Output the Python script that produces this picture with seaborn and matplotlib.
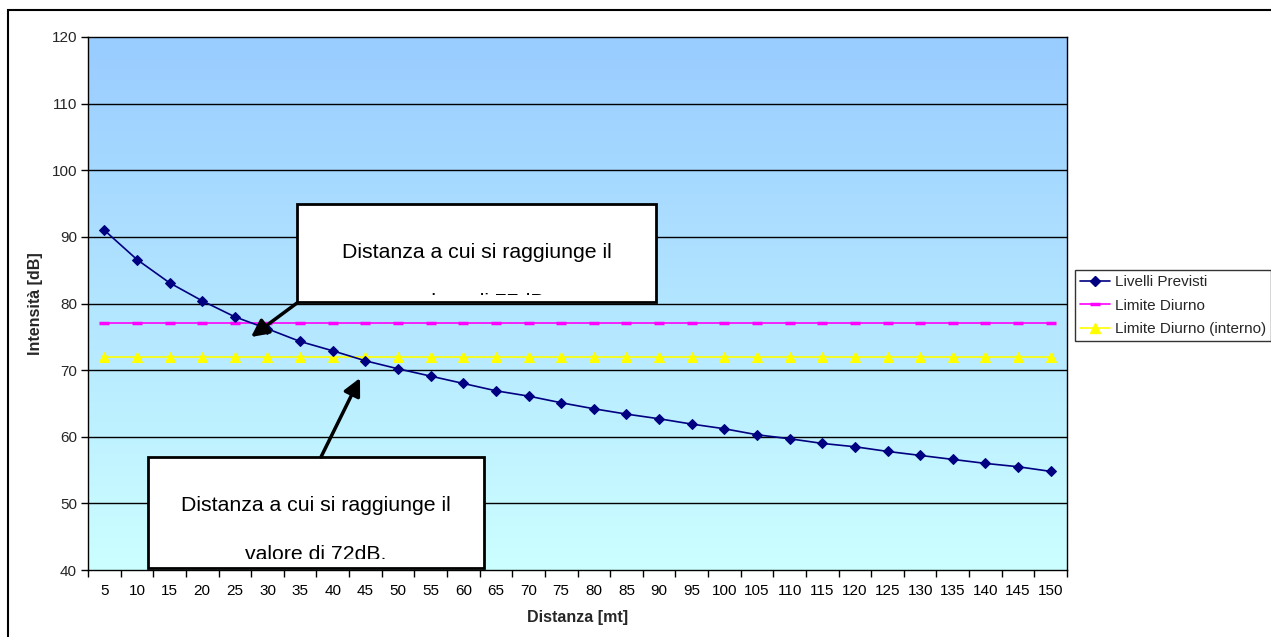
import numpy as np
import pandas as pd
import matplotlib
matplotlib.use("Agg")
import matplotlib.pyplot as plt
from matplotlib.patches import Rectangle, FancyArrowPatch
from matplotlib.lines import Line2D
import seaborn as sns

# --- data -------------------------------------------------------------
distanze = [5, 10, 15, 20, 25, 30, 35, 40, 45, 50, 55, 60, 65, 70, 75,
            80, 85, 90, 95, 100, 105, 110, 115, 120, 125, 130, 135, 140, 145, 150]
livelli_previsti = [91.0, 86.6, 83.1, 80.4, 78.0, 76.2, 74.3, 72.9, 71.4, 70.2,
                    69.1, 68.0, 66.9, 66.1, 65.1, 64.2, 63.4, 62.7, 61.9, 61.2,
                    60.3, 59.7, 59.0, 58.5, 57.8, 57.2, 56.6, 56.0, 55.5, 54.8]
limite_diurno = [77, 77, 77, 77, 77, 77, 77, 77, 77, 77, 77, 77, 77, 77, 77,
                 77, 77, 77, 77, 77, 77, 77, 77, 77, 77, 77, 77, 77, 77, 77]
limite_interno = [72, 72, 72, 72, 72, 72, 72, 72, 72, 72, 72, 72, 72, 72, 72,
                  72, 72, 72, 72, 72, 72, 72, 72, 72, 72, 72, 72, 72, 72, 72]
y_ticks = [40, 50, 60, 70, 80, 90, 100, 110, 120]
serie = ["Livelli Previsti", "Limite Diurno", "Limite Diurno (interno)"]
nota_77 = ["Distanza a cui si raggiunge il", "valore di 77dB"]
nota_72 = ["Distanza a cui si raggiunge il", "valore di 72dB."]

pos = np.arange(len(distanze))
df = pd.DataFrame({"pos": pos, "liv": livelli_previsti,
                   "diurno": limite_diurno, "interno": limite_interno})

# --- style ------------------------------------------------------------
sns.set_theme(style="white")
plt.rcParams["font.family"] = ["Liberation Sans", "DejaVu Sans"]

W, H = 1271, 637
fig = plt.figure(figsize=(W / 100, H / 100), dpi=100)
fig.patch.set_facecolor("white")


def fx(x):
    return x / W


def fy(y):
    return 1 - y / H


ax = fig.add_axes([fx(88), fy(570), fx(1067) - fx(88), fy(37) - fy(570)])

# gradient background of the plot area
grad = np.linspace(0, 1, 256).reshape(-1, 1)
top = np.array([153, 204, 255]) / 255
bot = np.array([204, 255, 255]) / 255
img = top[None, None, :] * (1 - grad[:, :, None]) + bot[None, None, :] * grad[:, :, None]
ax.imshow(img, extent=[0, 1, 0, 1], transform=ax.transAxes, aspect="auto", zorder=0)

for v in y_ticks[1:-1]:
    ax.axhline(v, color="black", lw=1.0, zorder=1)

sns.lineplot(data=df, x="pos", y="interno", ax=ax, color="#FFFF00", lw=1.2,
             marker="^", markersize=7, markeredgecolor="#FFFF00", zorder=3)
sns.lineplot(data=df, x="pos", y="diurno", ax=ax, color="#FF00FF", lw=1.2,
             marker="_", markersize=6.5, markeredgewidth=2.5, markeredgecolor="#FF00FF", zorder=3)
sns.lineplot(data=df, x="pos", y="liv", ax=ax, color="#000080", lw=1.2,
             marker="D", markersize=5, markeredgecolor="#000080", zorder=4)

ax.set_xlim(-0.5, len(distanze) - 0.5)
ax.set_ylim(40, 120)
ax.set_yticks(y_ticks)
ax.set_yticklabels([str(v) for v in y_ticks], fontsize=11)
ax.set_xticks(pos)
ax.set_xticklabels([str(d) for d in distanze], fontsize=11)
ax.set_xticks(np.arange(len(distanze) + 1) - 0.5, minor=True)
ax.tick_params(axis="x", which="major", length=0, pad=10, colors="black")
ax.tick_params(axis="x", which="minor", length=5, width=1, direction="out",
               color="black", bottom=True)
ax.tick_params(axis="y", which="major", length=5, width=1, direction="out",
               color="black", left=True, pad=3)
for s in ax.spines.values():
    s.set_color("black")
    s.set_linewidth(1.0)
    s.set_visible(True)

ax.set_xlabel("Distanza [mt]", fontsize=11.5, fontweight="bold", labelpad=9)
ax.set_ylabel("Intensità [dB]", fontsize=11.5, fontweight="bold", labelpad=6)
ax.grid(False)

# legend
handles = [
    Line2D([], [], color="#000080", lw=1.2, marker="D", markersize=5),
    Line2D([], [], color="#FF00FF", lw=1.2, marker="_", markersize=6.5, markeredgewidth=2.5),
    Line2D([], [], color="#FFFF00", lw=1.2, marker="^", markersize=7),
]
leg = fig.legend(handles, serie, loc="upper left",
                 bbox_to_anchor=(fx(1075), fy(270)), fontsize=11,
                 frameon=True, fancybox=False, edgecolor="black",
                 handlelength=1.95, handletextpad=0.35, borderpad=0.33,
                 labelspacing=0.62, borderaxespad=0)
leg.get_frame().set_linewidth(1.0)

# outer chart border
fig.add_artist(Rectangle((fx(8), -0.1), 1.2, fy(10) + 0.1, transform=fig.transFigure,
                         fill=False, edgecolor="black", lw=1.5))


def note_box(x0, y0, x1, y1, lines, baselines, clip_bottom):
    box = Rectangle((fx(x0), fy(y1)), fx(x1) - fx(x0), fy(y0) - fy(y1),
                    transform=fig.transFigure, facecolor="white",
                    edgecolor="black", lw=2, zorder=5)
    fig.add_artist(box)
    clip = Rectangle((fx(x0), fy(clip_bottom)), fx(x1) - fx(x0), fy(y0) - fy(clip_bottom),
                     transform=fig.transFigure, visible=False)
    fig.add_artist(clip)
    for txt, b in zip(lines, baselines):
        t = fig.text(fx((x0 + x1) / 2), fy(b), txt, ha="center", va="baseline",
                     fontsize=15.3, color="black", zorder=6)
        t.set_clip_path(clip)
        t.set_clip_on(True)


def arrow(tail, tip):
    fig.add_artist(FancyArrowPatch((fx(tail[0]), fy(tail[1])), (fx(tip[0]), fy(tip[1])),
                                   transform=fig.transFigure, arrowstyle="-|>",
                                   mutation_scale=26, lw=2.5, color="black",
                                   shrinkA=0, shrinkB=0, zorder=5))


note_box(297, 204, 656, 302, nota_77, [258, 308], 295)
note_box(148, 457, 484, 568, nota_72, [511, 560], 559)
arrow((297, 303), (251, 337))
arrow((321, 457), (360, 378))

fig.savefig("out.png", dpi=100)
